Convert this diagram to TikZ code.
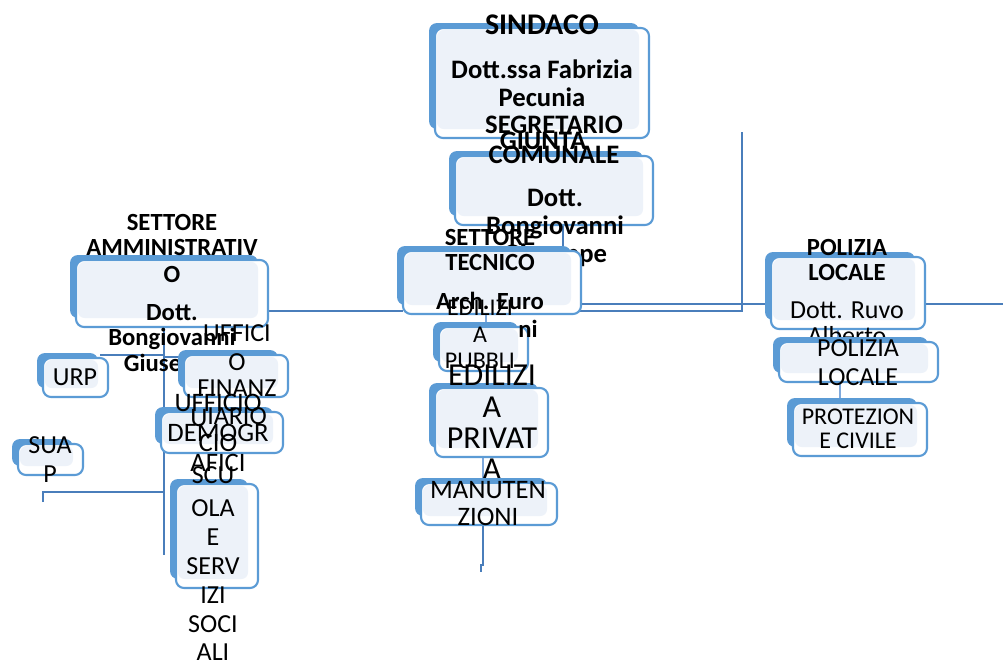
\documentclass[tikz,border=0pt]{standalone}
\usepackage{fontspec}
\setmainfont{Carlito}
\usetikzlibrary{fit}
\definecolor{backblue}{HTML}{5B9BD5}
\definecolor{edgeblue}{HTML}{5B9BD5}
\definecolor{lightfill}{HTML}{EDF2F9}
\definecolor{linkblue}{HTML}{4A7EBB}
\definecolor{softlink}{HTML}{7FA9DC}
\tikzset{
  frontbox/.style={draw=edgeblue, line width=1.6pt, fill=white, rounded corners=6pt, inner sep=0pt},
  link/.style={draw=linkblue, line width=1.4pt},
  softl/.style={draw=softlink, line width=1.4pt},
  tb/.style={inner sep=0pt, text depth=0pt},
  bS/.style={tb, text height=14.5pt, font=\fontsize{22.5}{26}\selectfont\bfseries},
  bL/.style={tb, text height=12.9pt, font=\fontsize{20}{24}\selectfont\bfseries},
  bt/.style={tb, text height=11.9pt, font=\fontsize{18.5}{22}\selectfont\bfseries},
  rt/.style={tb, text height=12.56pt, font=\fontsize{19.5}{23}\selectfont},
  rs/.style={tb, text height=11.6pt, font=\fontsize{18}{21}\selectfont},
  rm/.style={tb, text height=12.9pt, font=\fontsize{20}{24}\selectfont},
  rl/.style={tb, text height=15.5pt, font=\fontsize{24}{28}\selectfont},
}
\newcommand\obox[5]{%
  \fill[backblue, rounded corners=6pt] (#2,#3) rectangle (#4,#5);
  \coordinate (#1-p) at ({#2+6},{#3+5});
  \coordinate (#1-q) at ({#4+10},{#5+9});
  \node[frontbox, fit=(#1-p)(#1-q)] (#1) {};
  \fill[lightfill, rounded corners=5pt] ({#2+8},{#3+7}) rectangle (#4,#5);
}
\begin{document}
\begin{tikzpicture}[x=0.75pt,y=-0.75pt]
\useasboundingbox (0,0) rectangle (1003,661);
% ---------- connector end points ----------
\coordinate (c742t) at (742,132);
\coordinate (c742b) at (742,311);
\coordinate (tecR1) at (577,304);
\coordinate (tecR2) at (577,311);
\coordinate (polL) at (770,304);
\coordinate (polR) at (925,304);
\coordinate (rEnd) at (1003,304);
\coordinate (saR) at (268,311);
\coordinate (tecL) at (403,311);
\coordinate (segB) at (563,225);
\coordinate (segB2) at (563,246);
\coordinate (saB) at (164,328);
\coordinate (saEnd) at (164,555);
\coordinate (urpR) at (100,355);
\coordinate (urpJ) at (164,355);
\coordinate (finJ) at (164,357);
\coordinate (finL) at (180,357);
\coordinate (suJ) at (164,492);
\coordinate (suA) at (43,492);
\coordinate (suB) at (43,502);
\coordinate (priB) at (483,458);
\coordinate (manT) at (483,485);
\coordinate (manB) at (483,525);
\coordinate (manE) at (483,565);
\coordinate (manE2) at (481,565);
\coordinate (manE3) at (481,572);
\coordinate (tecB) at (486,315);
\coordinate (pubT) at (486,328);
\coordinate (plsB) at (840,383);
\coordinate (proT) at (840,403);
\coordinate (polB) at (838,329);
\coordinate (plsT) at (838,342);
% ---------- connectors ----------
\draw[link] (tecR2) -- (c742b) -- (c742t);
\draw[link] (tecR1) -- (polL);
\draw[link] (polR) -- (rEnd);
\draw[link] (saR) -- (tecL);
\draw[link] (segB) -- (segB2);
\draw[link] (saB) -- (saEnd);
\draw[link] (urpR) -- (urpJ);
\draw[link] (finJ) -- (finL);
\draw[link] (suB) -- (suA) -- (suJ);
\draw[softl] (priB) -- (manT);
\draw[link] (manB) -- (manE) -- (manE2) -- (manE3);
\draw[softl] (tecB) -- (pubT);
\draw[softl] (plsB) -- (proT);
\draw[softl] (polB) -- (plsT);
% ---------- SINDACO ----------
\obox{sind}{429}{23}{639}{129}
\node[bS] (sind-t1) at (542,25) {SINDACO};
\node[bL] (sind-t2) at (542,70) {Dott.ssa Fabrizia};
\node[bL] (sind-t3) at (542,98) {Pecunia};
% ---------- SEGRETARIO ----------
\obox{seg}{449}{151}{643}{216}
\node[bL] (seg-t1) at (554,125) {SEGRETARIO};
\node[bL] (seg-g) at (543,141) {GIUNTA};
\node[bL] (seg-t2) at (554,155) {COMUNALE};
\node[bL] (seg-t3) at (555,198) {Dott.};
\node[bL] (seg-t4) at (555,226) {Bongiovanni};
\node[bL] (seg-t5) at (555,254) {Giuseppe};
% ---------- SETTORE TECNICO ----------
\obox{tec}{397}{246}{571}{305}
\node[bt] (tec-t1) at (490,238) {SETTORE};
\node[bt] (tec-t2) at (490,263) {TECNICO};
\node[bt] (tec-t3) at (490,302) {Arch. Euro};
% ---------- SETTORE AMMINISTRATIVO ----------
\obox{sa}{70}{255}{258}{318}
\node[bt] (sa-t1) at (172,223) {SETTORE};
\node[bt] (sa-t2) at (172,248) {AMMINISTRATIV};
\node[bt] (sa-t3) at (172,275) {O};
\node[bt] (sa-t4) at (172,313) {Dott.};
\node[bt] (sa-t5) at (172,338) {Bongiovanni};
\node[bt] (sa-t6) at (172,364) {Giuseppe};
% ---------- URP ----------
\obox{urp}{37}{353}{98}{388}
\node[rt] (urp-t) at (75,377) {URP};
% ---------- SUAP ----------
\obox{suap}{12}{439}{73}{466}
\node[rt] (suap-t1) at (50,445) {SUA};
\node[rt] (suap-t2) at (50,474) {P};
% ---------- UFFICIO DEMOGRAFICO ----------
\obox{dem}{155}{407}{273}{444}
% ---------- UFFICIO FINANZIARIO ----------
\obox{fin}{178}{350}{278}{388}
\node[rt] (fin-t1) at (237,333) {UFFICI};
\node[rt] (fin-t2) at (237,362) {O};
\node[rt] (fin-t3) at (237,388) {FINANZ};
\node[rt] (fin-t4) at (237,416) {IARIO};
\node[rm] (dem-t1) at (218,403) {UFFICIO};
\node[rm] (dem-u) at (199,418) {U};
\node[rm] (dem-t2) at (218,433) {DEMOGR};
\node[rm] (dem-t3) at (218,443) {CIO};
\node[rm] (dem-t4) at (218,463) {AFICI};
% ---------- SCUOLA ----------
\obox{scu}{170}{479}{248}{579}
\node[rt] (scu-t1) at (213,475) {SCU};
\node[rt] (scu-t2) at (213,508) {OLA};
\node[rt] (scu-t3) at (213,537) {E};
\node[rt] (scu-t4) at (213,566) {SERV};
\node[rt] (scu-t5) at (213,595) {IZI};
\node[rt] (scu-t6) at (213,624) {SOCI};
\node[rt] (scu-t7) at (213,652) {ALI};
% ---------- POLIZIA LOCALE ----------
\obox{pol}{765}{252}{915}{320}
\node[bt] (pol-t1) at (847,248) {POLIZIA};
\node[bt] (pol-t2) at (847,273) {LOCALE};
\node[rt] (pol-t3) at (847,310) {Dott. Ruvo};
\node[rt] (pol-t4) at (847,336) {Alberto};
\obox{pls}{773}{337}{928}{373}
\node[rt] (pls-t1) at (858,348) {POLIZIA};
\node[rt] (pls-t2) at (858,377) {LOCALE};
\obox{pro}{787}{398}{917}{447}
\node[rs] (pro-t1) at (858,417) {PROTEZION};
\node[rs] (pro-t2) at (858,441) {E CIVILE};
% ---------- EDILIZIA PUBBLICA ----------
\obox{pub}{433}{322}{518}{362}
\node[rs] (pub-t1) at (480,308) {EDILIZI};
\node[rs] (pub-t2) at (480,335) {A};
\node[rs] (pub-t3) at (480,361) {PUBBLI};
\node[bt] (tec-t4) at (528,330) {ni};
% ---------- EDILIZIA PRIVATA ----------
\obox{pri}{429}{383}{538}{448}
\node[rl] (pri-t1) at (492,375) {EDILIZI};
\node[rl] (pri-t2) at (492,407) {A};
\node[rl] (pri-t3) at (492,438) {PRIVAT};
\node[rl] (pri-t4) at (492,469) {A};
% ---------- MANUTENZIONI ----------
\obox{man}{415}{478}{547}{516}
\node[rm] (man-t1) at (488,490) {MANUTEN};
\node[rm] (man-t2) at (488,517) {ZIONI};
\end{tikzpicture}
\end{document}
